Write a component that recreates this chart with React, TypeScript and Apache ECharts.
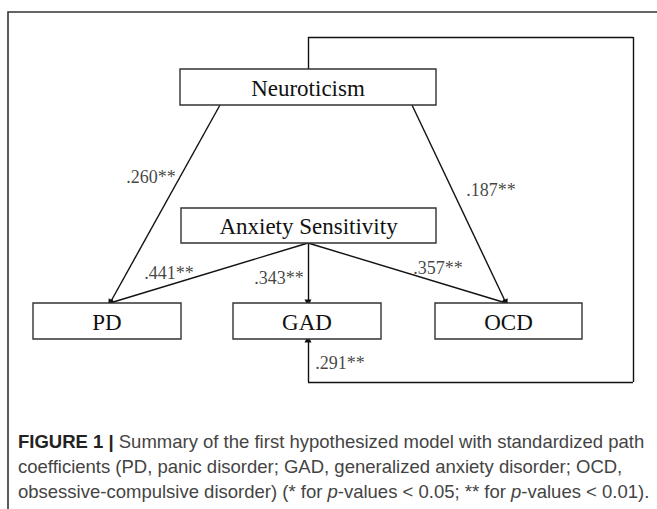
import React, { useEffect, useRef } from "react";
import * as echarts from "echarts";

// ---- Data ----
const constructs = ["Neuroticism", "Anxiety Sensitivity", "PD", "GAD", "OCD"];
const pathSources = ["Neuroticism", "Neuroticism", "Anxiety Sensitivity", "Anxiety Sensitivity", "Anxiety Sensitivity", "Neuroticism"];
const pathTargets = ["PD", "OCD", "PD", "GAD", "OCD", "GAD"];
const pathCoefficients = [0.26, 0.187, 0.441, 0.343, 0.357, 0.291];
const pathStars = [2, 2, 2, 2, 2, 2];
const captionLines = [
  "{b|FIGURE 1 |} Summary of the first hypothesized model with standardized path",
  "coefficients (PD, panic disorder; GAD, generalized anxiety disorder; OCD,",
  "obsessive-compulsive disorder) (* for {i|p}-values < 0.05; ** for {i|p}-values < 0.01).",
];

// ---- Layout (pixel coordinates of the diagram) ----
const W = 657;
const H = 509;
const boxLayout: Record<string, { cx: number; cy: number; w: number; h: number }> = {
  Neuroticism: { cx: 308, cy: 87, w: 256, h: 36 },
  "Anxiety Sensitivity": { cx: 308.5, cy: 225.5, w: 255, h: 35 },
  PD: { cx: 107, cy: 321, w: 148, h: 36 },
  GAD: { cx: 307, cy: 321, w: 148, h: 36 },
  OCD: { cx: 508.5, cy: 321, w: 147, h: 36 },
};
// route of each path: list of points, last one is the arrow tip
const pathRoutes: number[][][] = [
  [[220, 105], [110, 303]],
  [[412, 105], [506, 303]],
  [[308, 243], [110, 303]],
  [[308, 243], [308, 303]],
  [[308, 243], [506, 303]],
  [[308, 69], [308, 37], [633, 37], [633, 382], [308, 382], [308, 339]],
];
const labelPos: number[][] = [
  [151, 177],
  [491, 190],
  [169, 273],
  [279, 278],
  [438, 268],
  [340, 363],
];

function fmtCoef(v: number, stars: number) {
  return v.toFixed(3).replace(/^0/, "") + "*".repeat(stars);
}

const CAP_FS = 18.5;
const CAP_LH = 25;

export default function App() {
  const ref = useRef<HTMLDivElement>(null);
  useEffect(() => {
    if (!ref.current) return;
    const chart = echarts.init(ref.current, undefined, { renderer: "svg" });

    const nodes: any[] = [];
    const links: any[] = [];
    pathRoutes.forEach((route, i) => {
      const ids = route.map((p, j) => {
        const id = `${pathSources[i]}->${pathTargets[i]}#${j}`;
        nodes.push({ name: id, value: p, symbol: "circle", symbolSize: 0, label: { show: false }, itemStyle: { opacity: 0 } });
        return id;
      });
      for (let j = 0; j < ids.length - 1; j++) {
        const last = j === ids.length - 2;
        links.push({
          source: ids[j],
          target: ids[j + 1],
          symbol: ["none", last ? "triangle" : "none"],
          symbolSize: [0, last ? 7 : 0],
          label: { show: false },
        });
      }
    });

    chart.setOption({
      animation: false,
      backgroundColor: "#ffffff",
      title: {
        text: captionLines.join("\n"),
        left: 18,
        top: 429,
        padding: 0,
        textStyle: {
          fontFamily: "Liberation Sans",
          fontSize: CAP_FS,
          fontWeight: "normal",
          color: "#444444",
          lineHeight: CAP_LH,
          rich: {
            b: { fontFamily: "Liberation Sans", fontSize: CAP_FS, fontWeight: "bold", color: "#222222", lineHeight: CAP_LH },
            i: { fontFamily: "Liberation Sans", fontSize: CAP_FS, fontStyle: "italic", color: "#444444", lineHeight: CAP_LH },
          },
        },
      },
      grid: { left: 0, right: 0, top: 0, bottom: 0 },
      xAxis: { type: "value", min: 0, max: W, show: false },
      yAxis: { type: "value", min: 0, max: H, inverse: true, show: false },
      graphic: [
        {
          type: "polyline",
          shape: { points: [[8, H + 5], [8, 12], [W + 5, 12]] },
          style: { stroke: "#333333", lineWidth: 1.6, fill: "none" },
          z: 0,
        },
      ],
      series: [
        {
          type: "graph",
          coordinateSystem: "cartesian2d",
          layout: "none",
          data: nodes,
          links,
          lineStyle: { color: "#111111", width: 1.4, opacity: 1, curveness: 0 },
          emphasis: { disabled: true },
          silent: true,
          z: 2,
        },
        {
          type: "custom",
          coordinateSystem: "cartesian2d",
          data: constructs.map((name) => {
            const b = boxLayout[name];
            return [b.cx, b.cy, b.w, b.h];
          }),
          renderItem: (params: any, api: any) => {
            const c = api.coord([api.value(0), api.value(1)]);
            const w = api.value(2);
            const h = api.value(3);
            return {
              type: "group",
              children: [
                {
                  type: "rect",
                  shape: { x: c[0] - w / 2, y: c[1] - h / 2, width: w, height: h },
                  style: { fill: "#ffffff", stroke: "#333333", lineWidth: 1.4 },
                },
                {
                  type: "text",
                  style: {
                    text: constructs[params.dataIndex],
                    x: c[0],
                    y: c[1] + 1,
                    align: "center",
                    verticalAlign: "middle",
                    fontFamily: "Liberation Serif",
                    fontSize: 23,
                    fill: "#111111",
                  },
                },
              ],
            };
          },
          silent: true,
          z: 3,
        },
        {
          type: "scatter",
          data: pathCoefficients.map((v, i) => ({ value: labelPos[i], name: fmtCoef(v, pathStars[i]) })),
          symbolSize: 1,
          itemStyle: { color: "rgba(0,0,0,0)" },
          label: {
            show: true,
            position: "inside",
            formatter: "{b}",
            fontFamily: "Liberation Serif",
            fontSize: 18,
            color: "#111111",
          },
          silent: true,
          z: 4,
        },
      ],
    });
    return () => chart.dispose();
  }, []);
  return <div ref={ref} style={{ position: "fixed", left: 0, top: 0, width: W, height: H }} />;
}
